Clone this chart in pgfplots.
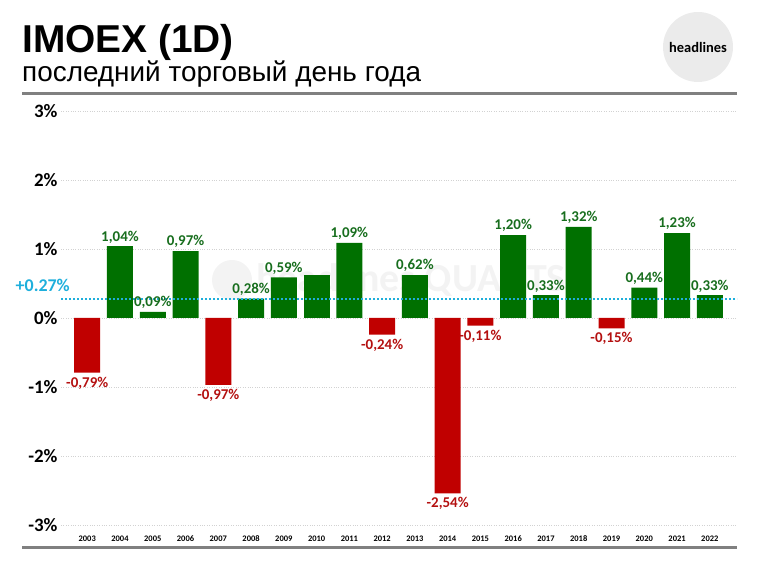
\documentclass[border=0pt]{standalone}
\usepackage{fontspec}
\setmainfont{Carlito}
\newfontfamily\arialf{Liberation Sans}
\usepackage{pgfplots}
\pgfplotsset{compat=1.18}
\definecolor{bargreen}{RGB}{0,112,0}
\definecolor{labgreen}{RGB}{24,110,30}
\definecolor{barred}{RGB}{192,0,0}
\definecolor{labred}{RGB}{180,16,16}
\definecolor{avgcyan}{RGB}{30,175,220}
\definecolor{gridgray}{RGB}{210,210,210}
\definecolor{rulegray}{RGB}{128,128,128}
\definecolor{wmgray}{RGB}{243,243,243}
\begin{document}
\begin{tikzpicture}[x=1bp,y=1bp]
\useasboundingbox (0,0) rectangle (758,563);
\node[anchor=base west, inner sep=0pt, font=\arialf\bfseries\fontsize{39}{40}\selectfont] at (22,510) {IMOEX (1D)};
\node[anchor=base west, inner sep=0pt, font=\arialf\fontsize{28}{30}\selectfont] at (22,481) {последний торговый день года};
\fill[black!8] (698,516) circle (35);
\node[font=\bfseries\fontsize{14.5}{15}\selectfont] at (698,516) {headlines};
\draw[rulegray, line width=3bp] (22,469) -- (737,469);
\draw[rulegray, line width=3bp] (22,15) -- (737,15);
% faint watermark
\fill[wmgray] (232,283) circle (20);
\node[anchor=west, inner sep=0pt, text=wmgray, font=\bfseries\fontsize{40}{40}\selectfont] at (256,283) {headlines QUANTS};
\begin{axis}[
  at={(61bp,38bp)}, anchor=south west,
  width=676bp, height=414bp, scale only axis,
  xmin=-0.8, xmax=19.83, ymin=-3, ymax=3,
  axis line style={draw=none}, tick style={draw=none},
  ymajorgrids, grid style={gridgray, dotted, line width=0.8bp},
  xtick={0,...,19},
  xticklabels={2003,2004,2005,2006,2007,2008,2009,2010,2011,2012,2013,2014,2015,2016,2017,2018,2019,2020,2021,2022},
  xticklabel style={font=\bfseries\fontsize{8.5}{9}\selectfont, yshift=-3bp},
  ytick={-3,-2,-1,0,1,2,3},
  yticklabels={-3\%,-2\%,-1\%,0\%,1\%,2\%,3\%},
  yticklabel style={font=\bfseries\fontsize{19}{20}\selectfont},
  ybar, bar width=26bp, clip=false,
]
\addplot[fill=bargreen, draw=none, bar shift=0pt,
  nodes near coords={\pgfmathprintnumber[fixed,fixed zerofill,precision=2,use comma,assume math mode=true]{\pgfplotspointmeta}\%},
  every node near coord/.append style={anchor=south, inner sep=3bp, text=labgreen, font=\bfseries\fontsize{15}{15}\selectfont}]
  coordinates {(1,1.04) (2,0.09) (3,0.97) (5,0.28) (6,0.59) (8,1.09) (10,0.62) (13,1.20) (14,0.33) (15,1.32) (17,0.44) (18,1.23) (19,0.33)};
\addplot[fill=bargreen, draw=none, bar shift=0pt] coordinates {(7,0.62)};
\addplot[fill=barred, draw=none, bar shift=0pt,
  nodes near coords={\pgfmathprintnumber[fixed,fixed zerofill,precision=2,use comma,assume math mode=true]{\pgfplotspointmeta}\%},
  every node near coord/.append style={anchor=north, inner sep=4bp, text=labred, font=\bfseries\fontsize{15}{15}\selectfont}]
  coordinates {(0,-0.79) (4,-0.97) (9,-0.24) (11,-2.54) (12,-0.11) (16,-0.15)};
\addplot[sharp plot, forget plot, avgcyan, line width=1.8bp, dash pattern=on 2bp off 2bp] coordinates {(-0.8,0.27) (19.83,0.27)};
\node[anchor=east, inner sep=0pt, text=avgcyan, font=\bfseries\fontsize{18}{18}\selectfont, xshift=9bp, yshift=14bp] at (axis cs:-0.8,0.27) {+0.27\%};
\end{axis}
\end{tikzpicture}
\end{document}
